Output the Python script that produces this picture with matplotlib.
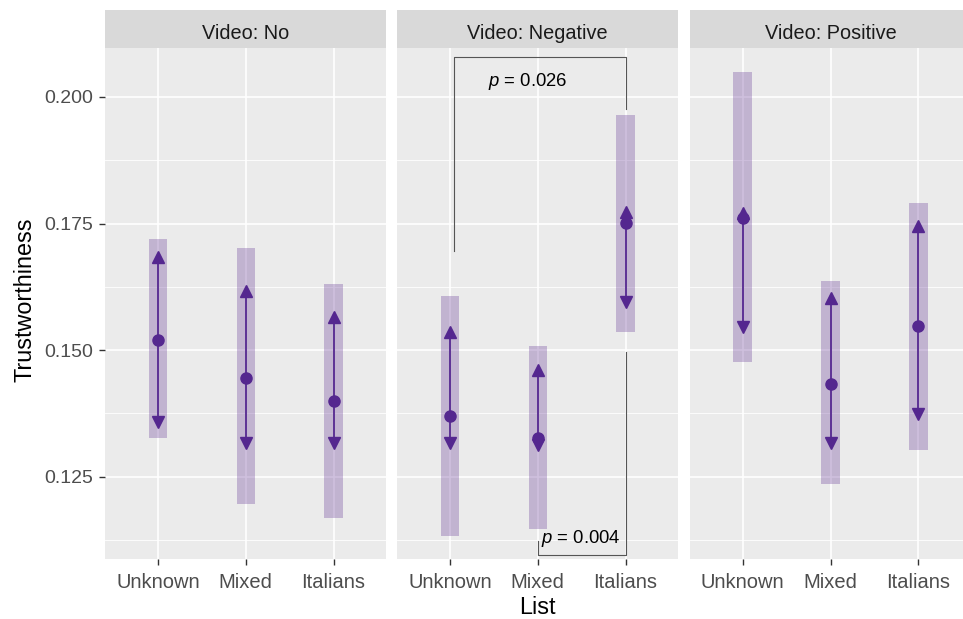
import matplotlib
matplotlib.use('Agg')
import matplotlib.pyplot as plt
from matplotlib.ticker import MultipleLocator

plt.rcParams['font.family'] = 'Liberation Sans'
plt.rcParams['mathtext.fontset'] = 'custom'
plt.rcParams['mathtext.rm'] = 'Liberation Sans'
plt.rcParams['mathtext.it'] = 'Liberation Sans:italic'

list_levels = ['Unknown', 'Mixed', 'Italians']
video_levels = ['No', 'Negative', 'Positive']

# one row per video condition, one value per list
estimate = [[0.1521, 0.1445, 0.1399],
            [0.1370, 0.1326, 0.1751],
            [0.1760, 0.1434, 0.1547]]
upper = [[0.1684, 0.1617, 0.1565],
         [0.1536, 0.1461, 0.1773],
         [0.1770, 0.1603, 0.1745]]
lower = [[0.1359, 0.1316, 0.1316],
         [0.1317, 0.1313, 0.1595],
         [0.1546, 0.1316, 0.1374]]
band_hi = [[0.1719, 0.1702, 0.1630],
           [0.1607, 0.1509, 0.1964],
           [0.2049, 0.1636, 0.1791]]
band_lo = [[0.1326, 0.1196, 0.1169],
           [0.1133, 0.1146, 0.1536],
           [0.1477, 0.1235, 0.1303]]

# significance brackets drawn in the Negative panel
bracket_left = [1.04, 2.0]
bracket_right = [3.0, 3.0]
bracket_bar = [0.2078, 0.1096]
bracket_left_end = [0.1696, 0.1124]
bracket_right_end = [0.1977, 0.1496]
bracket_text = ['$p$ = 0.026', '$p$ = 0.004']
bracket_text_x = [1.88, 2.495]
bracket_text_y = [0.2031, 0.1129]

purple = '#54278F'
band_col = '#6A3D9A'
W, H = 963, 619

fig = plt.figure(figsize=(W / 100, H / 100), dpi=100)

panel_left = [105.3, 397.3, 690.0]
panel_w = 281.0
panel_top, panel_bot, strip_top = 48.3, 559.3, 10.0

x = [1, 2, 3]
axes = []
for i, video in enumerate(video_levels):
    ax = fig.add_axes([panel_left[i] / W, (H - panel_bot) / H,
                       panel_w / W, (panel_bot - panel_top) / H])
    ax.set_facecolor('#EBEBEB')
    for s in ax.spines.values():
        s.set_visible(False)
    ax.set_xlim(0.4, 3.6)
    ax.set_ylim(0.1087, 0.2096)
    ax.yaxis.set_major_locator(MultipleLocator(0.025))
    ax.yaxis.set_minor_locator(MultipleLocator(0.025, offset=0.0125))
    ax.grid(which='major', color='white', linewidth=1.2)
    ax.grid(which='minor', axis='y', color='white', linewidth=0.6)
    ax.set_axisbelow(True)
    ax.set_xticks(x)
    ax.set_xticklabels(list_levels, fontsize=14.5, color='#4D4D4D')
    ax.tick_params(axis='x', length=4, width=1, color='#333333', pad=6)
    ax.tick_params(axis='y', which='minor', length=0)
    if i == 0:
        ax.yaxis.set_major_formatter(lambda v, p: f'{v:.3f}')
        ax.tick_params(axis='y', which='major', length=4, width=1,
                       color='#333333', labelsize=14, labelcolor='#4D4D4D', pad=5)
    else:
        ax.tick_params(axis='y', which='major', length=0, labelleft=False)

    ax.bar(x, [h - l for h, l in zip(band_hi[i], band_lo[i])], bottom=band_lo[i],
           width=0.21, color=band_col, alpha=0.32, linewidth=0, zorder=2)
    ax.vlines(x, lower[i], upper[i], color=purple, linewidth=1.3, zorder=3)
    ax.plot(x, upper[i], '^', color=purple, markersize=8, zorder=4)
    ax.plot(x, lower[i], 'v', color=purple, markersize=8, zorder=4)
    ax.plot(x, estimate[i], 'o', color=purple, markersize=8, zorder=5)

    # facet strip
    sax = fig.add_axes([panel_left[i] / W, (H - panel_top) / H,
                        panel_w / W, (panel_top - strip_top) / H])
    sax.set_facecolor('#D9D9D9')
    sax.set_xticks([])
    sax.set_yticks([])
    for s in sax.spines.values():
        s.set_visible(False)
    sax.text(0.5, 0.38, f'Video: {video}', ha='center', va='center',
             fontsize=14.3, color='#1A1A1A', transform=sax.transAxes)
    axes.append(ax)

ax = axes[1]
for j in range(len(bracket_text)):
    ax.plot([bracket_left[j], bracket_left[j], bracket_right[j], bracket_right[j]],
            [bracket_left_end[j], bracket_bar[j], bracket_bar[j], bracket_right_end[j]],
            color='#555555', linewidth=0.8, zorder=6, clip_on=False)
    ax.text(bracket_text_x[j], bracket_text_y[j], bracket_text[j], ha='center',
            va='center', fontsize=13.3, color='black', zorder=7)

fig.text(537.8 / W, 1 - 608 / H, 'List', ha='center', va='center', fontsize=16.8)
fig.text(25 / W, 1 - 300 / H, 'Trustworthiness', ha='center', va='center',
         rotation=90, fontsize=16.8)

fig.savefig('out.png', dpi=100, facecolor='white')
